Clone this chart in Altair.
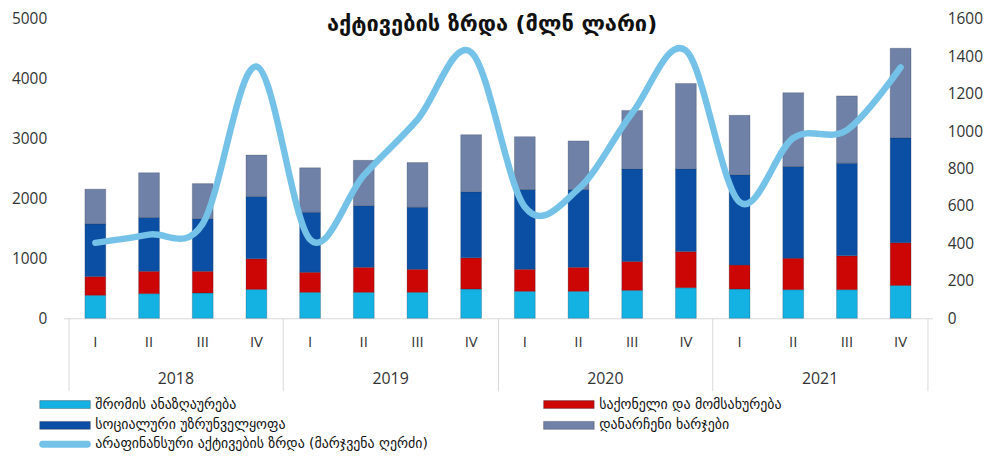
import altair as alt
import pandas as pd

years = ["2018", "2019", "2020", "2021"]
quarters = ["I", "II", "III", "IV"]

labor = [384, 411, 422, 482, 433, 433, 433, 488, 450, 450, 466, 510, 488, 477, 477, 548]
goods = [312, 373, 362, 510, 335, 417, 384, 521, 367, 400, 482, 603, 400, 526, 565, 713]
social = [877, 899, 877, 1042, 1003, 1030, 1036, 1102, 1332, 1299, 1546, 1381, 1508, 1530, 1546, 1749]
other = [582, 746, 587, 691, 740, 757, 746, 954, 883, 812, 976, 1426, 992, 1233, 1124, 1497]
assets = [403, 447, 505, 1345, 421, 763, 1061, 1421, 595, 691, 1096, 1430, 621, 963, 1005, 1340]

series_names = ["შრომის ანაზღაურება", "საქონელი და მომსახურება",
                "სოციალური უზრუნველყოფა", "დანარჩენი ხარჯები"]
line_name = "არაფინანსური აქტივების ზრდა (მარჯვენა ღერძი)"
title_text = "აქტივების ზრდა (მლნ ლარი)"

colors = ["#14b2e2", "#cc0505", "#0b4fa5", "#6f81a7", "#74c2e8"]
domain = series_names + [line_name]

FONT = "DejaVu Sans"
NUMFONT = "Open Sans"

rows = []
for i in range(16):
    for k, (name, vals) in enumerate(zip(series_names, [labor, goods, social, other])):
        rows.append({"pos": i + 0.5, "series": name, "value": vals[i], "ord": k})
bars_df = pd.DataFrame(rows)

line_df = pd.DataFrame({"pos": [i + 0.5 for i in range(16)], "value": assets,
                        "series": [line_name] * 16})

q_df = pd.DataFrame({"pos": [i + 0.5 for i in range(16)],
                     "label": [quarters[i % 4] for i in range(16)]})
y_df = pd.DataFrame({"pos": [2, 6, 10, 14], "label": years})

H = 302
xscale = alt.Scale(domain=[0, 16], nice=False, zero=False)
color_scale = alt.Scale(domain=domain, range=colors)

xaxis = alt.Axis(values=[0, 4, 8, 12, 16], labels=False, ticks=True, tickSize=73,
                 tickColor="#d9d9d9", domainColor="#d9d9d9", grid=False, title=None)

bars = alt.Chart(bars_df).mark_bar(width=21, stroke="#1a2a40", strokeWidth=0.7,
                                   strokeOpacity=0.35).encode(
    x=alt.X("pos:Q", scale=xscale, axis=xaxis),
    y=alt.Y("sum(value):Q", stack="zero",
            scale=alt.Scale(domain=[0, 5000], nice=False),
            axis=alt.Axis(values=[0, 1000, 2000, 3000, 4000, 5000], format="d",
                          domain=False, ticks=False, grid=False, title=None,
                          labelFontSize=15.5, labelFont=NUMFONT,
                          labelColor="#333333", labelPadding=17)),
    color=alt.Color("series:N", scale=color_scale, legend=None),
    order=alt.Order("ord:Q", sort="ascending"),
)

line = alt.Chart(line_df).mark_line(strokeWidth=6.5, interpolate="cardinal",
                                    strokeCap="round").encode(
    x=alt.X("pos:Q", scale=xscale),
    y=alt.Y("value:Q", scale=alt.Scale(domain=[0, 1600], nice=False),
            axis=alt.Axis(orient="right", values=list(range(0, 1601, 200)), format="d",
                          domain=False, ticks=False, grid=False, title=None,
                          labelFontSize=15.5, labelFont=NUMFONT, labelColor="#333333",
                          labelPadding=15)),
    color=alt.Color("series:N", scale=color_scale, legend=None),
)

qtext = alt.Chart(q_df).mark_text(font=NUMFONT, fontSize=15, color="#333333",
                                  baseline="middle").encode(
    x=alt.X("pos:Q", scale=xscale), y=alt.value(H + 24), text="label:N")
ytext = alt.Chart(y_df).mark_text(font=NUMFONT, fontSize=16, color="#333333",
                                  baseline="middle").encode(
    x=alt.X("pos:Q", scale=xscale), y=alt.value(H + 61), text="label:N")

# legend (drawn as marks; row-major, two columns)
legend_layers = []
col_x = [-24, 484]
row_y = [389, 410, 429]
for idx, name in enumerate(domain):
    c, r = idx % 2, idx // 2
    x0, yc = col_x[c], row_y[r]
    one = pd.DataFrame({"name": [name]})
    if name == line_name:
        sw = alt.Chart(one).mark_rule(strokeWidth=7, strokeCap="round",
                                      color=colors[idx]).encode(
            x=alt.value(x0 + 3), x2=alt.value(x0 + 48), y=alt.value(yc))
    else:
        sw = alt.Chart(one).mark_rect(color=colors[idx], stroke="#333344",
                                      strokeWidth=0.6, strokeOpacity=0.6).encode(
            x=alt.value(x0), x2=alt.value(x0 + 51),
            y=alt.value(yc - 4), y2=alt.value(yc + 4))
    tx = alt.Chart(one).mark_text(font=FONT, fontSize=14, color="#111111", align="left",
                                  baseline="middle").encode(
        x=alt.value(x0 + 56), y=alt.value(yc), text="name:N")
    legend_layers += [sw, tx]

chart = alt.layer(bars, line, qtext, ytext, *legend_layers).resolve_scale(
    y="independent"
).properties(
    width=876, height=H,
    padding={"left": 56, "top": 9, "right": 51, "bottom": 134},
    autosize=alt.AutoSizeParams(type="none"),
    title=alt.TitleParams(title_text, font=FONT, fontSize=22, fontWeight="bold",
                          color="#111111", anchor="middle", dx=-6, offset=-24),
).configure_view(stroke=None)

chart.save("out.html", embed_options={"renderer": "svg", "actions": False})
